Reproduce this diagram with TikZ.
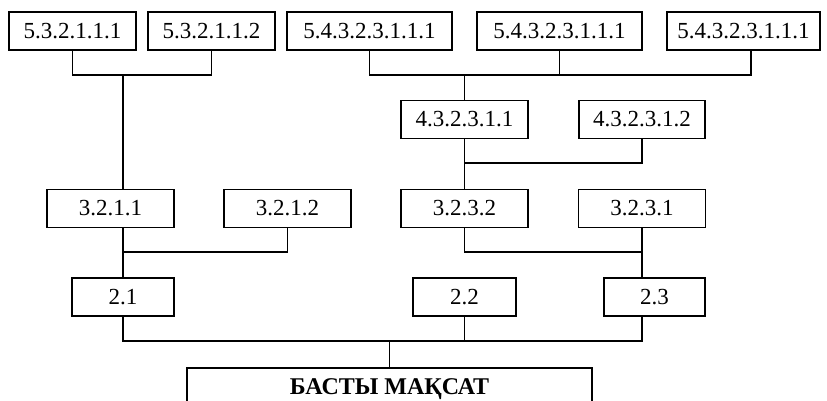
\documentclass[tikz,border=0pt]{standalone}
\usepackage{fontspec}
\setmainfont{Liberation Serif}
\begin{document}
\begin{tikzpicture}[x=1pt, y=-1pt, line width=1.8pt,
        box/.style={draw, line width=1.8pt, minimum height=38, inner sep=0pt, font=\fontsize{23}{27}\selectfont},
        goal/.style={draw, line width=1.8pt, anchor=north, minimum width=405, minimum height=42, inner sep=0pt, font=\fontsize{24}{28}\selectfont\bfseries}]
        \useasboundingbox (0,0) rectangle (827,401);

        \node[box, minimum width=127] (A) at (72.5,31) {5.3.2.1.1.1};
        \node[box, minimum width=127] (B) at (211.5,31) {5.3.2.1.1.2};
        \node[box, minimum width=165] (C) at (369.5,31) {5.4.3.2.3.1.1.1};
        \node[box, minimum width=165] (D) at (559.5,31) {5.4.3.2.3.1.1.1};
        \node[box, minimum width=153] (E) at (743.5,31) {5.4.3.2.3.1.1.1};

        \node[box, minimum width=127] (F) at (464.5,119.5) {4.3.2.3.1.1};
        \node[box, minimum width=126] (G) at (642,119.5) {4.3.2.3.1.2};

        \node[box, minimum width=127] (H) at (110.5,208.5) {3.2.1.1};
        \node[box, minimum width=127] (I) at (287.5,208.5) {3.2.1.2};
        \node[box, minimum width=127] (J) at (464.5,208.5) {3.2.3.2};
        \node[box, minimum width=127] (K) at (642,208.5) {3.2.3.1};

        \node[box, minimum width=102] (L) at (123,297) {2.1};
        \node[box, minimum width=103] (M) at (464.5,297) {2.2};
        \node[box, minimum width=101] (N) at (654.5,297) {2.3};

        \node[goal] (main) at (389.5,367) {БАСТЫ МАҚСАТ};

        \coordinate (j1) at (123,75);
        \coordinate (j2) at (464.5,75);
        \coordinate (j3) at (464.5,163);
        \coordinate (j4) at (123,252);
        \coordinate (j5) at (642,252);
        \coordinate (j6) at (389.5,341);

        \draw (A.south) |- (j1) -| (B.south);
        \draw (j1) -- (j1 |- H.north);

        \draw (C.south) |- (j2) -| ([xshift=7.5]E.south);
        \draw (D.south) -- (D.south |- j2);
        \draw (j2) -- (F.north);

        \draw (F.south) -- (j3) -| (G.south);
        \draw (j3) -- (J.north);

        \draw (j4 |- H.south) -- (j4) -| (I.south);
        \draw (j4) -- (L.north);

        \draw (J.south) |- (j5) -- (K.south);
        \draw (j5) -- (j5 |- N.north);

        \draw (L.south) |- (j6);
        \draw (j6) -| (j5 |- N.south);
        \draw (M.south) -- (M.south |- j6);
        \draw (j6) -- (main.north);
\end{tikzpicture}
\end{document}
